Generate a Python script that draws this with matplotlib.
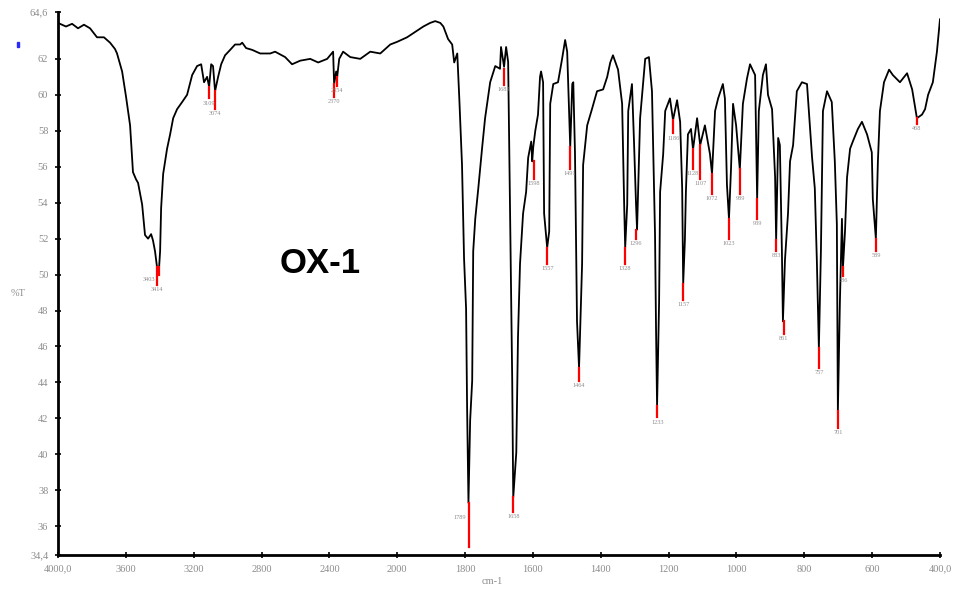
import numpy as np
import matplotlib
matplotlib.use('Agg')
import matplotlib.pyplot as plt
from matplotlib.patches import Rectangle

# IR spectrum OX-1
# 4000-2000 cm-1 region
wn_high = [4000, 3953, 3917, 3882, 3847, 3811, 3770, 3729, 3693, 3664,
           3652, 3622, 3599, 3575, 3558, 3540, 3528, 3504, 3487, 3469,
           3451, 3440, 3428, 3416, 3404, 3398, 3392, 3380, 3357, 3339,
           3321, 3298, 3268, 3239, 3209, 3180, 3156, 3139, 3121, 3109,
           3097, 3086, 3074, 3056, 3038, 3015, 2985, 2956, 2926, 2914,
           2891, 2855, 2808, 2749, 2720, 2661, 2620, 2572, 2513, 2466,
           2413, 2378, 2372, 2360, 2354, 2342, 2319, 2277, 2218, 2159,
           2100, 2041]
t_high = [64.0, 63.8, 63.95, 63.7, 63.9, 63.7, 63.2, 63.2, 62.9, 62.55,
          62.3, 61.3, 59.9, 58.3, 55.7, 55.3, 55.1, 53.9, 52.2, 52.0,
          52.25, 51.9, 51.3, 50.4, 50.4, 51.3, 53.7, 55.6, 57.0, 57.8,
          58.7, 59.2, 59.6, 60.0, 61.1, 61.6, 61.7, 60.7, 61.0, 60.45,
          61.7, 61.6, 60.2, 61.0, 61.7, 62.2, 62.5, 62.8, 62.8, 62.9,
          62.6, 62.5, 62.3, 62.3, 62.4, 62.1, 61.7, 61.9, 62.0, 61.8,
          62.0, 62.4, 60.6, 61.3, 61.0, 62.0, 62.4, 62.1, 62.0, 62.4,
          62.3, 62.8]

# 2000-400 cm-1 region
wn_low = [2000, 1971, 1947, 1923, 1903, 1888, 1873, 1864, 1850, 1838,
          1832, 1823, 1817, 1809, 1803, 1797, 1794, 1790, 1785, 1779,
          1776, 1770, 1761, 1750, 1741, 1726, 1711, 1697, 1694, 1685,
          1679, 1673, 1667, 1661, 1658, 1649, 1644, 1638, 1629, 1620,
          1614, 1605, 1602, 1599, 1593, 1585, 1579, 1576, 1570, 1567,
          1561, 1558, 1552, 1549, 1540, 1526, 1514, 1505, 1499, 1496,
          1490, 1484, 1481, 1476, 1470, 1464, 1455, 1452, 1440, 1426,
          1411, 1393, 1381, 1372, 1364, 1349, 1337, 1331, 1328, 1322,
          1319, 1308, 1302, 1296, 1293, 1290, 1284, 1269, 1258, 1249,
          1240, 1237, 1234, 1228, 1225, 1216, 1210, 1196, 1187, 1175,
          1166, 1160, 1157, 1152, 1149, 1143, 1134, 1128, 1116, 1107,
          1093, 1078, 1072, 1063, 1054, 1040, 1034, 1028, 1022, 1016,
          1010, 1001, 990, 981, 969, 960, 945, 939, 934, 922,
          913, 907, 895, 886, 883, 877, 872, 866, 863, 857,
          848, 842, 833, 822, 807, 792, 777, 769, 763, 757,
          751, 745, 733, 719, 710, 704, 701, 695, 689, 686,
          680, 674, 665, 657, 642, 630, 615, 601, 598, 589,
          583, 577, 565, 550, 539, 518, 497, 482, 468, 453,
          444, 435, 421, 409, 400]
t_low = [62.95, 63.2, 63.5, 63.8, 64.0, 64.1, 64.0, 63.8, 63.1, 62.8,
         61.8, 62.3, 59.8, 56.1, 50.9, 48.1, 42.6, 37.3, 41.9, 44.1,
         51.3, 53.1, 54.8, 57.0, 58.7, 60.7, 61.6, 61.45, 62.66, 61.56,
         62.66, 61.83, 52.8, 44.1, 37.6, 40.1, 46.5, 50.6, 53.4, 54.6,
         56.5, 57.4, 56.3, 57.1, 58.0, 58.9, 61.0, 61.3, 60.7, 53.4,
         52.1, 51.5, 52.4, 59.5, 60.6, 60.7, 62.0, 63.05, 62.4, 60.6,
         57.1, 60.6, 60.7, 56.8, 47.4, 44.8, 50.6, 56.1, 58.3, 59.2,
         60.2, 60.3, 61.0, 61.8, 62.2, 61.4, 59.5, 53.9, 51.5, 53.9,
         59.1, 60.6, 57.4, 53.9, 52.5, 54.5, 58.7, 62.0, 62.1, 60.2,
         52.2, 46.9, 42.7, 48.5, 54.6, 56.7, 59.1, 59.8, 58.6, 59.7,
         58.5, 54.8, 49.5, 51.9, 54.6, 57.8, 58.1, 56.96, 58.7, 57.2,
         58.3, 56.7, 55.6, 59.1, 59.8, 60.6, 59.8, 55.0, 53.1, 55.9,
         59.5, 58.3, 55.85, 59.5, 60.9, 61.7, 61.1, 54.2, 59.1, 61.1,
         61.7, 60.0, 59.2, 55.4, 51.9, 57.6, 57.2, 51.3, 47.4, 50.8,
         53.4, 56.3, 57.2, 60.2, 60.7, 60.6, 56.5, 54.8, 50.8, 45.9,
         51.3, 59.1, 60.2, 59.6, 56.3, 52.8, 42.4, 48.5, 53.1, 50.4,
         52.4, 55.4, 57.0, 57.4, 58.1, 58.5, 57.8, 56.8, 54.2, 52.0,
         56.3, 59.1, 60.7, 61.4, 61.1, 60.7, 61.2, 60.3, 58.7, 58.9,
         59.2, 60.0, 60.7, 62.4, 64.2]

# peak picks: red marker from top to bottom, label under it
peak_wn = [3403, 3414, 3109, 3074, 2370, 2354, 1789, 1685, 1658, 1598,
           1557, 1491, 1464, 1328, 1296, 1233, 1186, 1157, 1128, 1107,
           1072, 1023, 989, 939, 883, 861, 757, 701, 686, 589, 468]
peak_top = [50.4, 50.4, 60.45, 60.2, 60.6, 61.0, 37.3, 61.45, 37.6, 56.3,
            51.5, 57.1, 44.8, 51.5, 52.5, 42.7, 58.6, 49.5, 56.96, 57.2,
            55.6, 53.1, 55.85, 54.2, 51.9, 47.4, 45.9, 42.4, 50.4, 52.0, 58.7]
peak_bottom = [50.0, 49.4, 59.8, 59.2, 59.9, 60.5, 34.85, 60.55, 36.8, 55.3,
               50.6, 55.9, 44.1, 50.6, 52.0, 42.05, 57.85, 48.6, 55.9, 55.3,
               54.5, 52.0, 54.5, 53.1, 51.3, 46.7, 44.8, 41.45, 49.9, 51.3, 58.4]
peak_label = ['3403', '3414', '3109', '3074', '2370', '2354', '1789', '1685',
              '1658', '1598', '1557', '1491', '1464', '1328', '1296', '1233',
              '1186', '1157', '1128', '1107', '1072', '1023', '989', '939',
              '883', '861', '757', '701', '686', '589', '468']

xticks = [4000, 3600, 3200, 2800, 2400, 2000, 1800, 1600, 1400, 1200, 1000, 800, 600, 400]
xtick_labels = ['4000,0', '3600', '3200', '2800', '2400', '2000', '1800', '1600',
                '1400', '1200', '1000', '800', '600', '400,0']
yticks = [34.4, 36, 38, 40, 42, 44, 46, 48, 50, 52, 54, 56, 58, 60, 62, 64.6]
ytick_labels = ['34,4', '36', '38', '40', '42', '44', '46', '48', '50', '52',
                '54', '56', '58', '60', '62', '64,6']


# the spectrometer prints 4000-2000 at half the scale of 2000-400
def fwd(x):
    x = np.asarray(x, dtype=float)
    return np.where(x > 2000, 2000 + (x - 2000) * 0.5, x)


def inv(u):
    u = np.asarray(u, dtype=float)
    return np.where(u > 2000, 2000 + (u - 2000) * 2.0, u)


serif = 'Liberation Serif'
grey = '#8c8c8c'

fig = plt.figure(figsize=(9.54, 5.92), dpi=100)
ax = fig.add_axes([0.0608, 0.0625, 0.9245, 0.917])
ax.set_xscale('function', functions=(fwd, inv))

ax.plot(wn_high + wn_low, t_high + t_low, color='black', lw=1.3)

for w, top, bot, lab in zip(peak_wn, peak_top, peak_bottom, peak_label):
    ax.plot([w, w], [top, bot], color='red', lw=1.6)
    if bot < 36.6:
        ax.annotate(lab, (w, 36.6), xytext=(-2, 0), textcoords='offset points',
                    ha='right', va='top', fontsize=4.5, color=grey, family=serif)
    elif lab == '3403':
        ax.annotate(lab, (w, bot), xytext=(-3, -1.5), textcoords='offset points',
                    ha='right', va='top', fontsize=4.5, color=grey, family=serif)
    else:
        ax.annotate(lab, (w, bot), xytext=(0, -1.5), textcoords='offset points',
                    ha='center', va='top', fontsize=4.5, color=grey, family=serif)

ax.set_xlim(4000, 400)
ax.set_ylim(34.4, 64.6)
ax.set_xticks(xticks)
ax.set_xticklabels(xtick_labels)
ax.set_yticks(yticks)
ax.set_yticklabels(ytick_labels)
ax.minorticks_off()
ax.tick_params(axis='both', direction='inout', length=4, width=1.2, color='black',
               labelcolor=grey, labelsize=7.5, pad=5)
for t in ax.get_xticklabels() + ax.get_yticklabels():
    t.set_family(serif)

for s in ['top', 'right']:
    ax.spines[s].set_visible(False)
for s in ['left', 'bottom']:
    ax.spines[s].set_linewidth(2)

ax.text(2455, 50.6, 'OX-1', ha='center', va='center', fontsize=25,
        fontweight='bold', family='Liberation Sans')

fig.text(18 / 954, 1 - 293 / 592, '%T', ha='center', va='center',
         fontsize=7.5, color=grey, family=serif)
fig.text(492 / 954, 1 - 582 / 592, 'cm-1', ha='center', va='center',
         fontsize=7.5, color=grey, family=serif)
fig.add_artist(Rectangle((17 / 954, 1 - 47 / 592), 2 / 954, 5 / 592,
                         color='#2a2aff', transform=fig.transFigure))

fig.savefig('out.png', dpi=100)
